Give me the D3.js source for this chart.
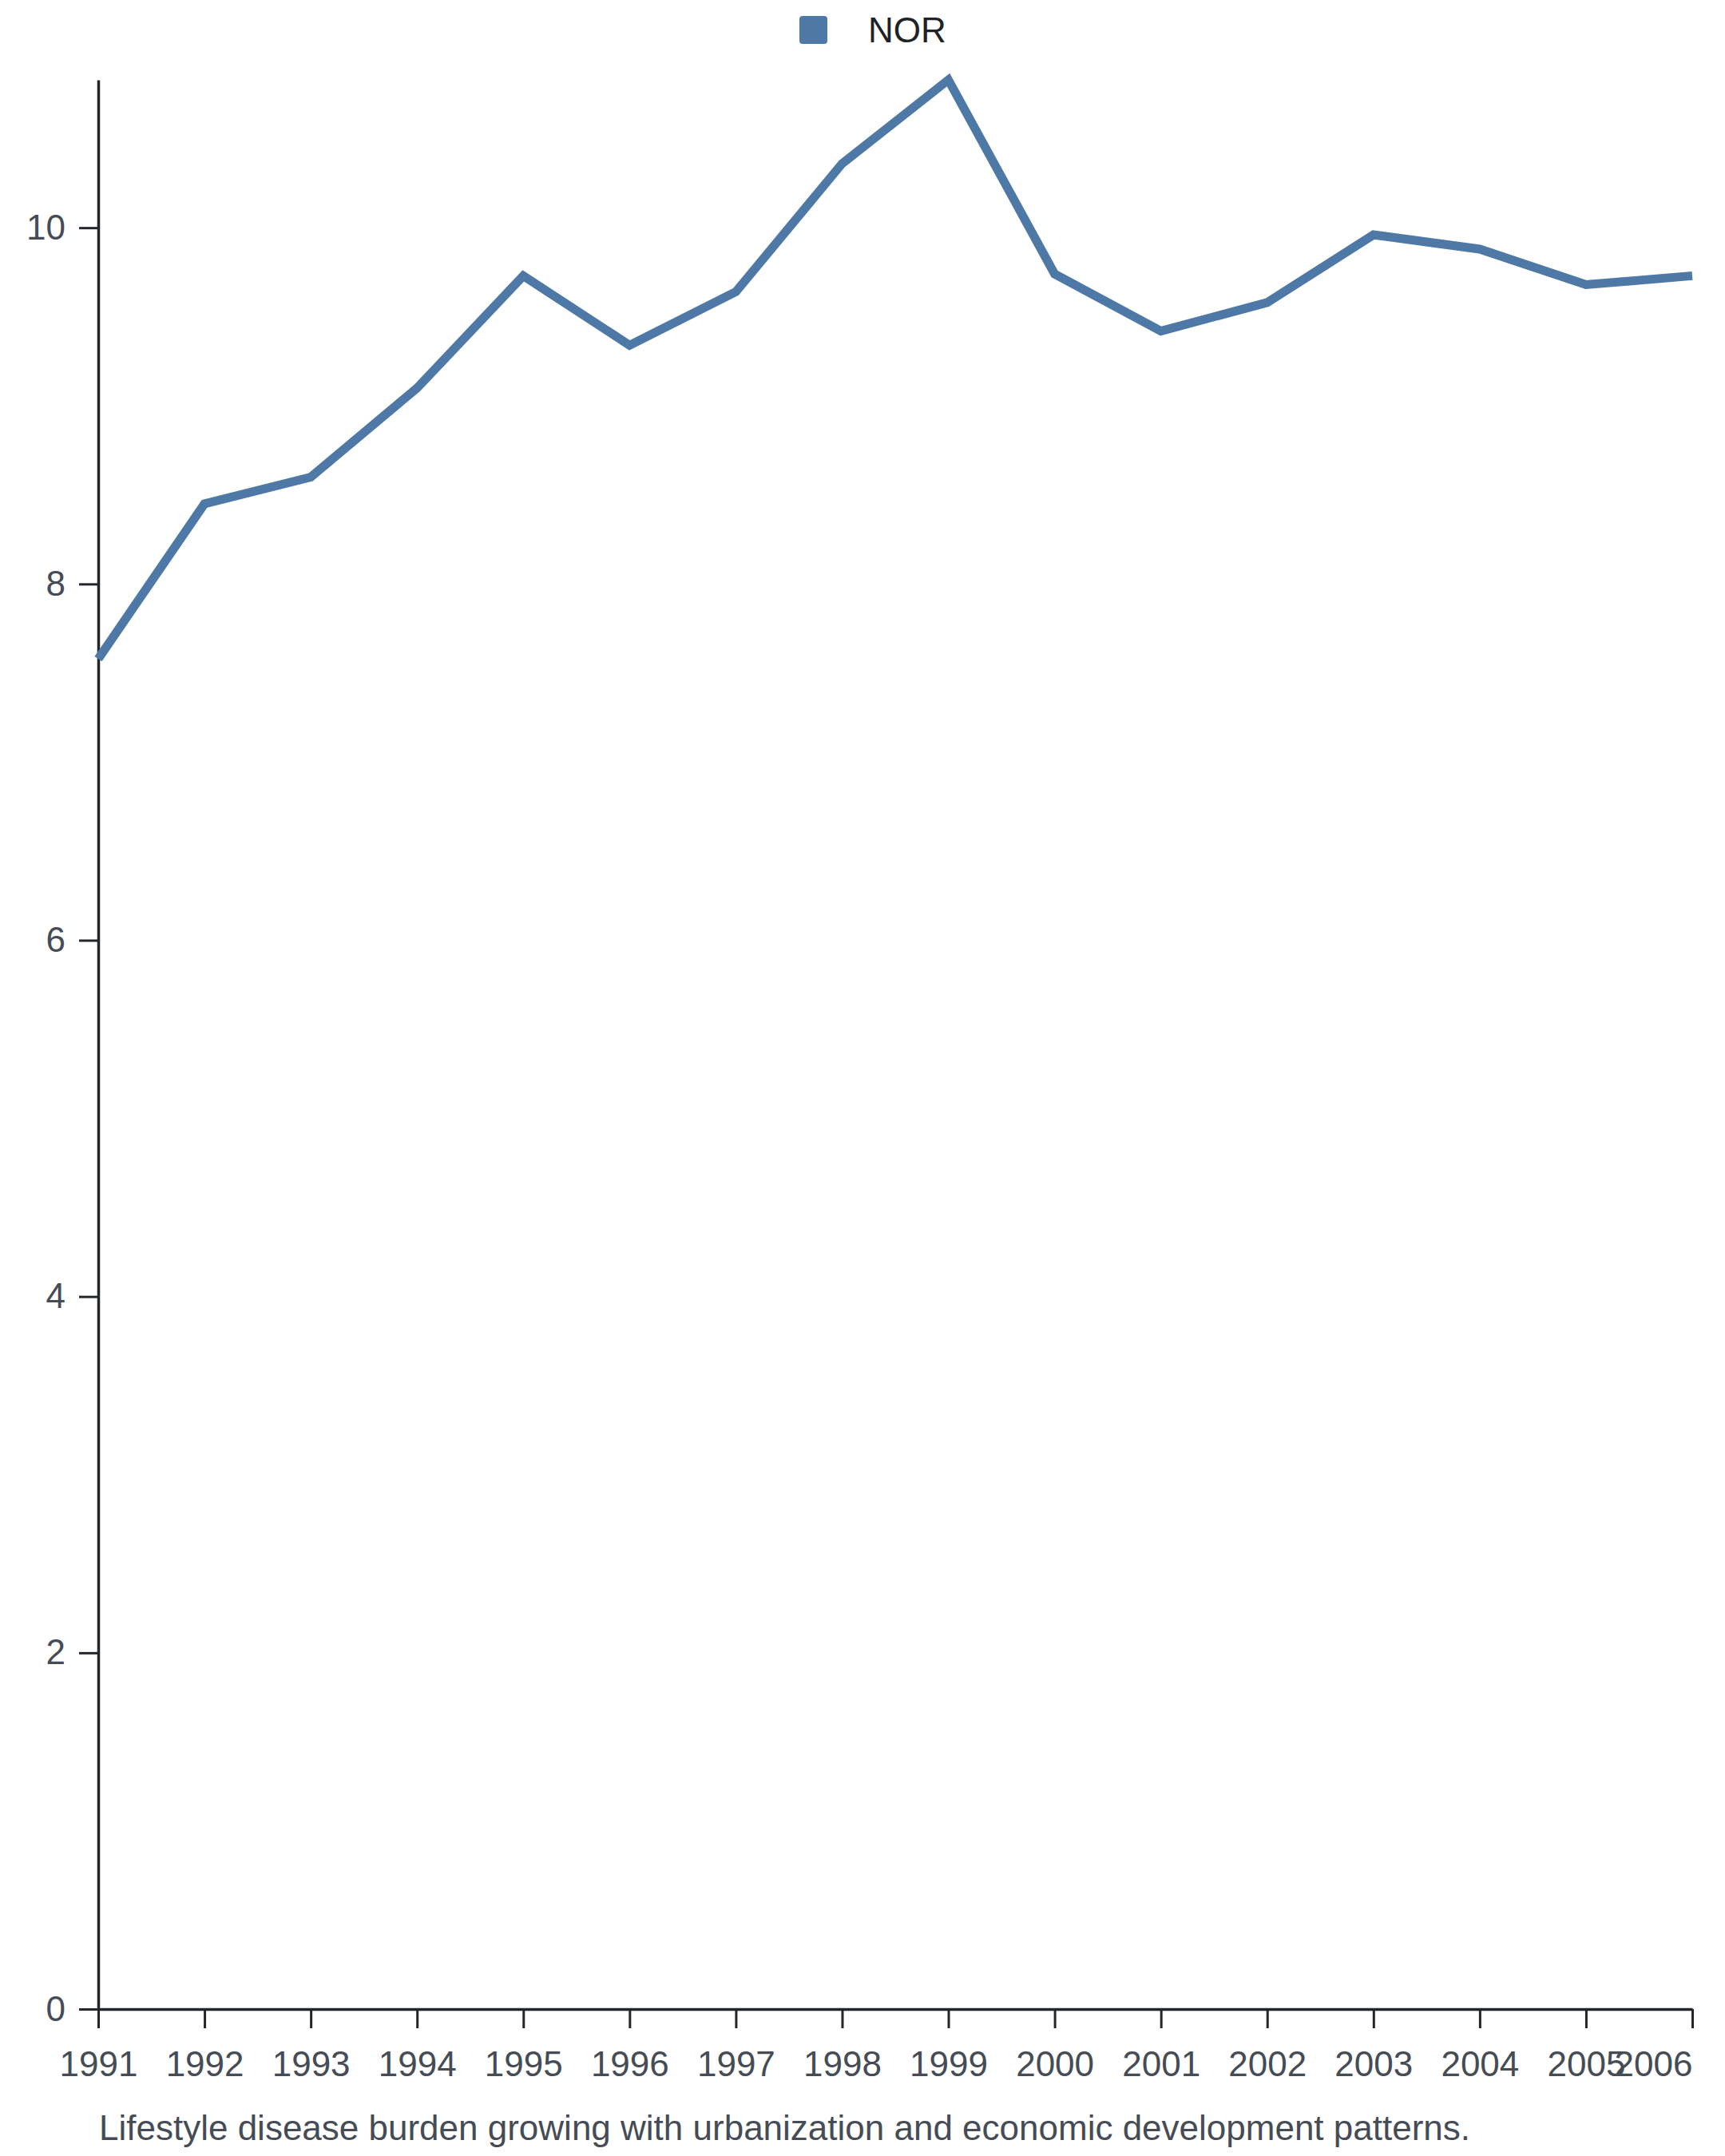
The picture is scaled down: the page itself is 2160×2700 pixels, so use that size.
<!DOCTYPE html>
<html>
<head>
<meta charset="utf-8">
<script src="https://cdn.jsdelivr.net/npm/d3@7"></script>
<style>
  html, body { margin: 0; padding: 0; background: #ffffff; }
  svg { display: block; font-family: "Liberation Sans", Arial, sans-serif; }
</style>
</head>
<body>
<svg id="chart" width="2160" height="2700"></svg>
<script>
const years = ["1991","1992","1993","1994","1995","1996","1997","1998","1999","2000","2001","2002","2003","2004","2005","2006"];
const seriesName = "NOR";
const values = [7.58, 8.45, 8.60, 9.10, 9.73, 9.34, 9.64, 10.36, 10.83, 9.74, 9.42, 9.58, 9.96, 9.88, 9.68, 9.73];
const yTicks = [0, 2, 4, 6, 8, 10];
const caption = "Lifestyle disease burden growing with urbanization and economic development patterns.";

const W = 2160, H = 2700;
const margin = { top: 100, right: 41, bottom: 184, left: 123 };
const color = "#4e79a7";
const labelColor = "#464c55";
const fontFam = "Liberation Sans, Arial, sans-serif";

const svg = d3.select("#chart");

const x = d3.scalePoint().domain(years).range([margin.left, W - margin.right]);
const y = d3.scaleLinear().domain([0, d3.max(values)]).range([H - margin.bottom, margin.top]);

// Y axis
const yAxis = svg.append("g")
  .attr("transform", `translate(${margin.left},0)`)
  .call(d3.axisLeft(y).tickValues(yTicks).tickSize(24).tickPadding(17).tickSizeOuter(0));
yAxis.select(".domain").attr("stroke", "#23272b").attr("stroke-width", 3.5);
yAxis.selectAll(".tick line").attr("stroke", "#23272b").attr("stroke-width", 3);
yAxis.selectAll(".tick text").attr("font-size", 44).attr("fill", labelColor).attr("font-family", fontFam);

// X axis
const xAxis = svg.append("g")
  .attr("transform", `translate(0,${H - margin.bottom})`)
  .call(d3.axisBottom(x).tickSize(24).tickPadding(29).tickSizeOuter(0));
xAxis.select(".domain").attr("stroke", "#23272b").attr("stroke-width", 3.5);
xAxis.selectAll(".tick line").attr("stroke", "#23272b").attr("stroke-width", 3);
xAxis.selectAll(".tick text").attr("font-size", 44).attr("fill", labelColor).attr("font-family", fontFam);
xAxis.selectAll(".tick text").filter(d => d === years[years.length - 1]).attr("text-anchor", "end");

// Line
const line = d3.line().x((d, i) => x(years[i])).y(d => y(d));
svg.append("path")
  .datum(values)
  .attr("fill", "none")
  .attr("stroke", color)
  .attr("stroke-width", 11)
  .attr("stroke-linejoin", "miter")
  .attr("d", line);

// Legend
const lg = svg.append("g").attr("transform", "translate(1001,20)");
lg.append("rect").attr("x", 0).attr("y", 0).attr("width", 35).attr("height", 35).attr("rx", 4).attr("fill", color);
lg.append("text").attr("x", 86).attr("y", 33).attr("font-size", 44).attr("fill", "#1f2328")
  .attr("font-family", fontFam)
  .text(seriesName);

// Caption
svg.append("text")
  .attr("x", margin.left + 1)
  .attr("y", 2680)
  .attr("font-size", 44)
  .attr("fill", labelColor)
  .attr("font-family", fontFam)
  .text(caption);
</script>
</body>
</html>
